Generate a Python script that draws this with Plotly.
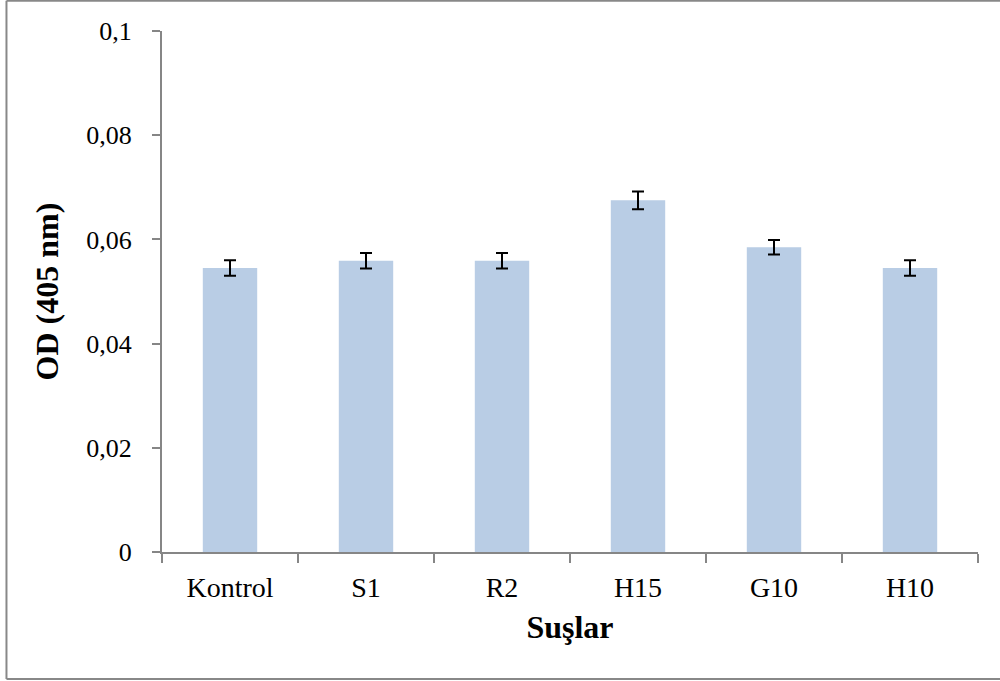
import plotly.graph_objects as go

categories = ["Kontrol", "S1", "R2", "H15", "G10", "H10"]
values = [0.0545, 0.0559, 0.0559, 0.0675, 0.0585, 0.0545]
errors = [0.0015, 0.0015, 0.0015, 0.0017, 0.0014, 0.0015]
y_ticks = [0, 0.02, 0.04, 0.06, 0.08, 0.1]
y_tick_labels = ["0", "0,02", "0,04", "0,06", "0,08", "0,1"]

FONT = "Liberation Serif, Times New Roman, serif"

fig = go.Figure(go.Bar(
    x=categories, y=values,
    marker=dict(color="#B9CDE5", line=dict(width=0)),
    width=0.4,
    error_y=dict(type="data", array=errors, visible=True,
                 color="black", thickness=2, width=6),
))

border = dict(color="#888888", width=2)
bx0, bx1, by0, by1 = -0.1906, 1.1, -0.2436, 1.058

fig.update_layout(
    width=1000, height=681,
    margin=dict(l=162, r=22, t=31, b=129),
    paper_bgcolor="white", plot_bgcolor="white",
    font=dict(family=FONT, color="black", size=26),
    showlegend=False,
    xaxis=dict(
        showline=True, linecolor="#868686", linewidth=2,
        ticks="outside", ticklen=9, tickcolor="#868686", tickwidth=2,
        tickson="boundaries", showgrid=False,
        ticklabelstandoff=9,
        tickfont=dict(family=FONT, size=28),
        title=dict(text="<b>Suşlar</b>", font=dict(family=FONT, size=32), standoff=14),
    ),
    yaxis=dict(
        range=[0, 0.1], tickvals=y_ticks, ticktext=y_tick_labels,
        showline=True, linecolor="#868686", linewidth=2,
        ticks="outside", ticklen=8, tickcolor="#868686", tickwidth=2,
        showgrid=False, zeroline=False,
        ticklabelstandoff=15,
        tickfont=dict(family=FONT, size=26),
        title=dict(text="<b>OD (405 nm)</b>", font=dict(family=FONT, size=32), standoff=18),
    ),
    shapes=[
        dict(type="line", xref="paper", yref="paper", x0=bx0, x1=bx0, y0=by0, y1=by1, line=border, layer="below"),
        dict(type="line", xref="paper", yref="paper", x0=bx0, x1=bx1, y0=by1, y1=by1, line=border, layer="below"),
        dict(type="line", xref="paper", yref="paper", x0=bx0, x1=bx1, y0=by0, y1=by0, line=border, layer="below"),
    ],
)

fig.write_html("out.html", config={"displayModeBar": False},
               post_script="document.body.style.margin='0';document.body.style.overflow='hidden';")
